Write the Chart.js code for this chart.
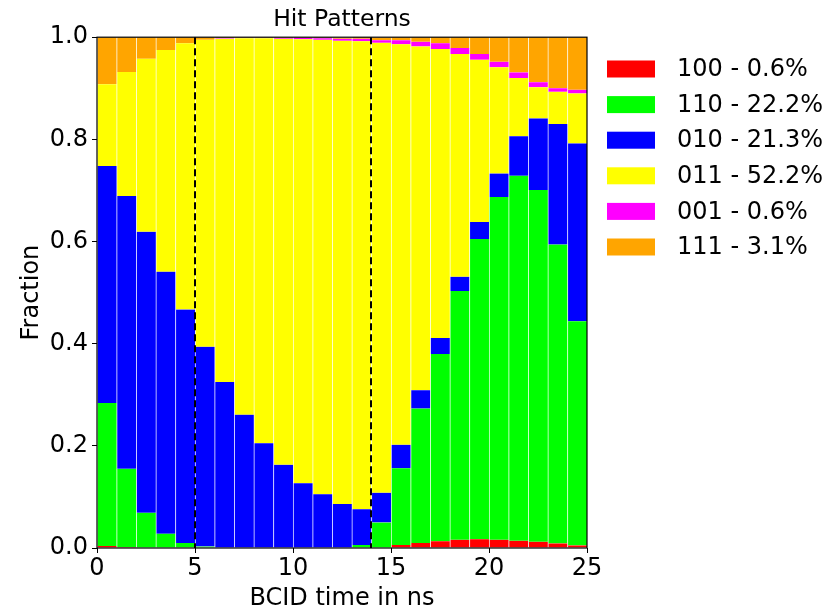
<!DOCTYPE html>
<html>
<head>
<meta charset="utf-8">
<script src="https://cdn.jsdelivr.net/npm/chart.js@4.4.0/dist/chart.umd.min.js"></script>
<style>
  body { margin: 0; background: #fff; }
  canvas { display: block; }
</style>
</head>
<body>
<canvas id="hitChart" width="827" height="610"></canvas>
<script>
// bin centres (BCID time, 1 ns bins)
const binCenters = [0.5, 1.5, 2.5, 3.5, 4.5, 5.5, 6.5, 7.5, 8.5, 9.5, 10.5, 11.5, 12.5,
  13.5, 14.5, 15.5, 16.5, 17.5, 18.5, 19.5, 20.5, 21.5, 22.5, 23.5, 24.5];

// fraction of each hit pattern per bin (stacked bottom to top)
const frac100 = [0.004, 0.002, 0, 0, 0, 0, 0, 0, 0, 0, 0, 0, 0, 0, 0.001,
  0.006, 0.010, 0.013, 0.016, 0.017, 0.016, 0.014, 0.012, 0.009, 0.005];
const frac110 = [0.280, 0.153, 0.069, 0.028, 0.010, 0.003, 0, 0, 0, 0, 0, 0, 0, 0.006, 0.049,
  0.150, 0.263, 0.367, 0.487, 0.588, 0.671, 0.715, 0.689, 0.585, 0.439];
const frac010 = [0.464, 0.534, 0.550, 0.513, 0.457, 0.391, 0.325, 0.261, 0.205, 0.163, 0.127, 0.105, 0.086,
  0.070, 0.058, 0.046, 0.036, 0.031, 0.028, 0.033, 0.046, 0.077, 0.140, 0.236, 0.348];
const frac011 = [0.160, 0.243, 0.339, 0.434, 0.521, 0.601, 0.672, 0.737, 0.793, 0.834, 0.869, 0.890, 0.907,
  0.916, 0.881, 0.784, 0.673, 0.566, 0.436, 0.318, 0.208, 0.114, 0.061, 0.063, 0.098];
const frac001 = [0, 0, 0, 0, 0, 0, 0.001, 0.001, 0.001, 0.002, 0.003, 0.003, 0.004,
  0.005, 0.005, 0.008, 0.009, 0.011, 0.012, 0.011, 0.011, 0.011, 0.010, 0.007, 0.007];
const frac111 = [0.092, 0.068, 0.042, 0.025, 0.012, 0.005, 0.002, 0.001, 0.001, 0.001, 0.001, 0.002, 0.0025,
  0.0035, 0.0055, 0.006, 0.009, 0.0125, 0.021, 0.033, 0.048, 0.069, 0.088, 0.100, 0.103];

const patternLabels = ['100 - 0.6%', '110 - 22.2%', '010 - 21.3%', '011 - 52.2%', '001 - 0.6%', '111 - 3.1%'];
const patternColors = ['#ff0000', '#00ff00', '#0000ff', '#ffff00', '#ff00ff', '#ffa500'];
const patternData = [frac100, frac110, frac010, frac011, frac001, frac111];

// dashed markers (ns)
const markerTimes = [5, 14];
const xTicks = [0, 5, 10, 15, 20, 25];
const yTicks = [0, 0.2, 0.4, 0.6, 0.8, 1.0];

const FONT = 'DejaVu Sans';

const datasets = patternData.map((vals, i) => ({
  label: patternLabels[i],
  data: vals.map((v, j) => ({ x: binCenters[j], y: v })),
  backgroundColor: patternColors[i],
  borderColor: 'rgba(255,255,255,0.15)',
  borderWidth: { left: 1, right: 0, top: 0, bottom: 0 },
  borderSkipped: false,
  barPercentage: 1,
  categoryPercentage: 1
}));

// frame, dashed lines and legend box
const extras = {
  id: 'extras',
  afterDatasetsDraw(chart) {
    const { ctx, chartArea: a, scales: { x } } = chart;
    ctx.save();
    ctx.strokeStyle = '#000';
    ctx.lineWidth = 2;
    ctx.setLineDash([7, 4]);
    markerTimes.forEach(t => {
      const px = Math.round(x.getPixelForValue(t));
      ctx.beginPath();
      ctx.moveTo(px, a.top);
      ctx.lineTo(px, a.bottom);
      ctx.stroke();
    });
    ctx.setLineDash([]);
    ctx.lineWidth = 1.2;
    ctx.strokeRect(a.left, a.top, a.right - a.left, a.bottom - a.top);

    // legend
    ctx.font = '24px "' + FONT + '"';
    ctx.textBaseline = 'middle';
    ctx.textAlign = 'left';
    patternLabels.forEach((lab, i) => {
      const cy = 69 + i * 35.6;
      ctx.fillStyle = patternColors[i];
      ctx.fillRect(607, cy - 8.5, 48, 17);
      ctx.fillStyle = '#000';
      ctx.fillText(lab, 677, cy + 1);
    });
    ctx.restore();
  }
};

new Chart(document.getElementById('hitChart'), {
  type: 'bar',
  data: { datasets },
  options: {
    responsive: false,
    animation: false,
    layout: { padding: { left: 0, right: 240, top: 0, bottom: 0 } },
    plugins: {
      legend: { display: false },
      tooltip: { enabled: false },
      title: {
        display: true,
        text: 'Hit Patterns',
        fullSize: false,
        color: '#000',
        font: { family: FONT, size: 23.5, weight: 'normal' },
        padding: { top: 6, bottom: 3 }
      }
    },
    scales: {
      x: {
        type: 'linear',
        stacked: true,
        offset: false,
        min: 0,
        max: 25,
        afterBuildTicks: s => { s.ticks = xTicks.map(v => ({ value: v })); },
        afterFit: s => { s.height = 62; },
        grid: { display: true, offset: false, drawOnChartArea: false, drawTicks: true, tickLength: 5, color: '#000' },
        border: { display: false },
        ticks: {
          color: '#000',
          padding: 1,
          maxRotation: 0,
          font: { family: FONT, size: 24 },
          callback: v => String(v)
        },
        title: {
          display: true,
          text: 'BCID time in ns',
          color: '#000',
          font: { family: FONT, size: 24 },
          padding: { top: 0, bottom: -3 }
        }
      },
      y: {
        stacked: true,
        min: 0,
        max: 1,
        afterBuildTicks: s => { s.ticks = yTicks.map(v => ({ value: v })); },
        afterFit: s => { s.width = 97; },
        grid: { display: true, offset: false, drawOnChartArea: false, drawTicks: true, tickLength: 5, color: '#000' },
        border: { display: false },
        ticks: {
          color: '#000',
          padding: 4,
          font: { family: FONT, size: 24 },
          callback: v => v.toFixed(1)
        },
        title: {
          display: true,
          text: 'Fraction',
          color: '#000',
          font: { family: FONT, size: 24 },
          padding: { top: 17, bottom: 0 }
        }
      }
    }
  },
  plugins: [extras]
});
</script>
</body>
</html>
